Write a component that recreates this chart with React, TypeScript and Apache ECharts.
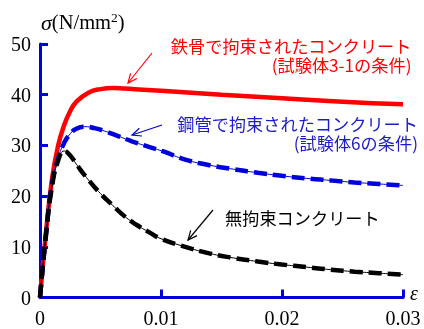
import React, { useEffect, useRef } from "react";
import * as echarts from "echarts";

// strain ε (-) and stress σ (N/mm²)
const steelFrameConfined: [number, number][] = [
  [0, 0], [0.0005, 13], [0.001, 23.5], [0.0015, 30], [0.002, 34], [0.0025, 36.8],
  [0.003, 38.6], [0.004, 40.4], [0.005, 41.1], [0.006, 41.3], [0.007, 41.2],
  [0.01, 40.8], [0.015, 40.0], [0.02, 39.3], [0.025, 38.6], [0.03, 38.1],
];
const steelTubeConfined: [number, number][] = [
  [0, 0], [0.0005, 12.5], [0.001, 22.5], [0.0015, 27.5], [0.002, 30.5], [0.0025, 32.3],
  [0.003, 33.3], [0.0037, 33.7], [0.0045, 33.4], [0.0055, 32.7], [0.0065, 31.8],
  [0.0076, 30.8], [0.009, 29.7], [0.0102, 28.8], [0.012, 27.2], [0.014, 26.1],
  [0.016, 25.3], [0.018, 24.6], [0.02, 24.0], [0.022, 23.5], [0.024, 23.1],
  [0.026, 22.7], [0.028, 22.4], [0.03, 22.1],
];
const unconfined: [number, number][] = [
  [0, 0], [0.0005, 12.5], [0.001, 22], [0.0015, 27], [0.002, 28.9], [0.0025, 28],
  [0.003, 26.3], [0.004, 23.2], [0.005, 20.5], [0.006, 18.2], [0.007, 16],
  [0.008, 14.3], [0.009, 12.9], [0.01, 11.6], [0.012, 10], [0.014, 8.7],
  [0.016, 7.8], [0.018, 7.1], [0.02, 6.5], [0.022, 6], [0.024, 5.5],
  [0.026, 5.1], [0.028, 4.8], [0.03, 4.5],
];

const xRange = [0, 0.03];
const xStep = 0.01;
const yRange = [0, 50];
const yStep = 10;

const labelRed = ["鉄骨で拘束されたコンクリート", "(試験体3-1の条件)"];
const labelBlue = ["鋼管で拘束されたコンクリート", "(試験体6の条件)"];
const labelBlack = ["無拘束コンクリート"];

const AXIS_BLUE = "#0000e0";
const RED = "#ff0000";
const BLUE = "#0000dd";
const TEXT_BLUE = "#1c1cc8";
const SERIF = "'Liberation Serif', 'Times New Roman', serif";
const JP = "'Noto Sans CJK JP', sans-serif";

function arrow(x1: number, y1: number, x2: number, y2: number, color: string) {
  const ang = Math.atan2(y2 - y1, x2 - x1);
  const L = 10;
  const a = 0.42;
  return [
    { type: "line", shape: { x1, y1, x2, y2 }, style: { stroke: color, lineWidth: 1.2 } },
    {
      type: "polyline",
      shape: {
        points: [
          [x2 - L * Math.cos(ang - a), y2 - L * Math.sin(ang - a)],
          [x2, y2],
          [x2 - L * Math.cos(ang + a), y2 - L * Math.sin(ang + a)],
        ],
      },
      style: { stroke: color, lineWidth: 1.2, fill: "none" },
    },
  ];
}

export default function App() {
  const ref = useRef<HTMLDivElement>(null);
  useEffect(() => {
    const chart = echarts.init(ref.current!, null, { renderer: "svg" });
    const jpText = (x: number, y: number, lines: string[], color: string, align: string) => ({
      type: "text",
      x,
      y,
      style: {
        text: lines.join("\n"), fill: color, font: `17.2px ${JP}`, lineHeight: 18.7,
        textAlign: align, textVerticalAlign: "top",
      },
    });
    const curve = { type: "line", showSymbol: false, smooth: 0.5 };
    chart.setOption({
      animation: false,
      grid: { left: 40, right: 21, top: 44, bottom: 31.5, containLabel: false },
      xAxis: {
        type: "value",
        min: xRange[0],
        max: xRange[1],
        interval: xStep,
        axisLine: { show: true, lineStyle: { color: AXIS_BLUE, width: 3 } },
        axisTick: { show: true, inside: true, length: 8, lineStyle: { color: AXIS_BLUE, width: 3 } },
        splitLine: { show: false },
        axisLabel: { color: "#000", fontFamily: SERIF, fontSize: 20, margin: 10 },
      },
      yAxis: {
        type: "value",
        min: yRange[0],
        max: yRange[1],
        interval: yStep,
        axisLine: { show: true, lineStyle: { color: AXIS_BLUE, width: 3 } },
        axisTick: { show: true, inside: true, length: 8, lineStyle: { color: AXIS_BLUE, width: 3 } },
        splitLine: { show: false },
        axisLabel: { color: "#000", fontFamily: SERIF, fontSize: 20, margin: 9, padding: [0, 0, 8, 0] },
      },
      series: [
        { ...curve, data: steelFrameConfined, lineStyle: { color: RED, width: 4.5 }, z: 2 },
        { ...curve, data: steelTubeConfined, lineStyle: { color: BLUE, width: 1 }, z: 3 },
        { ...curve, data: steelTubeConfined, lineStyle: { color: BLUE, width: 4.5, type: [13, 6] }, z: 3 },
        { ...curve, data: unconfined, lineStyle: { color: "#000", width: 1 }, z: 4 },
        { ...curve, data: unconfined, lineStyle: { color: "#000", width: 4.5, type: [13, 6] }, z: 4 },
      ],
      graphic: [
        {
          type: "text",
          x: 41,
          y: 34,
          style: {
            text: "{i|σ}{n|(N/mm}{s|2}{n|)}",
            textVerticalAlign: "bottom",
            rich: {
              i: { font: `italic 22px ${SERIF}`, fill: "#000" },
              n: { font: `20.5px ${SERIF}`, fill: "#000" },
              s: { font: `13.5px ${SERIF}`, fill: "#000", verticalAlign: "top", padding: [0, 0, 10, 0] },
            },
          },
        },
        {
          type: "text",
          x: 410,
          y: 293,
          style: { text: "ε", font: `italic 20px ${SERIF}`, fill: "#000", textVerticalAlign: "middle" },
        },
        jpText(411.5, 36.5, labelRed, RED, "right"),
        jpText(418, 114.3, labelBlue, TEXT_BLUE, "right"),
        jpText(225, 208, labelBlack, "#000", "left"),
        ...arrow(152, 53, 128, 83, RED),
        ...arrow(162, 125, 132, 135, BLUE),
        ...arrow(213, 210, 188, 240, "#000"),
      ],
    });
    return () => chart.dispose();
  }, []);
  return <div ref={ref} style={{ position: "fixed", left: 0, top: 0, width: 424, height: 329 }} />;
}
